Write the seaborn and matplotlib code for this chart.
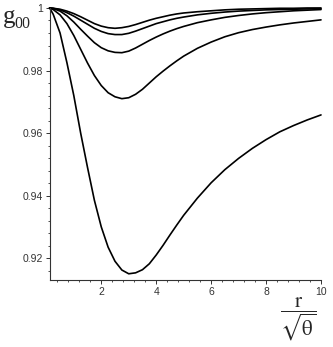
import matplotlib
matplotlib.use("Agg")
import matplotlib.pyplot as plt
from matplotlib.ticker import MultipleLocator, FuncFormatter
import seaborn as sns
import pandas as pd

# values, x = r / sqrt(theta)
x_vals = [0.12, 0.25, 0.5, 0.75, 1.0, 1.25, 1.5, 1.75, 2.0, 2.25, 2.5, 2.75, 3.0, 3.25,
          3.5, 3.75, 4.0, 4.25, 4.5, 4.75, 5.0, 5.5, 6.0, 6.5, 7.0, 7.5, 8.0, 8.5, 9.0,
          9.5, 10.0]

g00_a = [1.0, 0.9999, 0.9996, 0.9990, 0.9982, 0.9972, 0.9961, 0.9950, 0.9942, 0.9937,
         0.9935, 0.9937, 0.9941, 0.9947, 0.9954, 0.9961, 0.9967, 0.9972, 0.9977, 0.9981,
         0.9984, 0.9988, 0.9991, 0.9994, 0.9996, 0.9997, 0.9998, 0.9999, 0.9999, 1.0, 1.0]
g00_b = [1.0, 0.9999, 0.9994, 0.9985, 0.9974, 0.9961, 0.9948, 0.9935, 0.9925, 0.9918,
         0.9915, 0.9915, 0.9919, 0.9926, 0.9934, 0.9942, 0.9950, 0.9956, 0.9962, 0.9967,
         0.9971, 0.9978, 0.9983, 0.9987, 0.9990, 0.9992, 0.9994, 0.9995, 0.9996, 0.9997,
         0.9998]
g00_c = [1.0, 0.9998, 0.9990, 0.9975, 0.9955, 0.9932, 0.9910, 0.9889, 0.9873, 0.9863,
         0.9858, 0.9857, 0.9862, 0.9872, 0.9884, 0.9896, 0.9907, 0.9917, 0.9926, 0.9934,
         0.9941, 0.9953, 0.9962, 0.9970, 0.9976, 0.9981, 0.9985, 0.9988, 0.9991, 0.9993,
         0.9995]
g00_d = [1.0, 0.9995, 0.9978, 0.9950, 0.9912, 0.9868, 0.9824, 0.9784, 0.9752, 0.9729,
         0.9716, 0.9710, 0.9713, 0.9724, 0.9740, 0.9760, 0.9780, 0.9798, 0.9815, 0.9831,
         0.9846, 0.9871, 0.9891, 0.9908, 0.9921, 0.9931, 0.9939, 0.9946, 0.9952, 0.9957,
         0.9962]
g00_e = [1.0, 0.9980, 0.9920, 0.9825, 0.9720, 0.9600, 0.9490, 0.9385, 0.9300, 0.9235,
         0.9190, 0.9162, 0.9150, 0.9153, 0.9163, 0.9182, 0.9210, 0.9241, 0.9274, 0.9306,
         0.9337, 0.9392, 0.9441, 0.9483, 0.9519, 0.9551, 0.9579, 0.9604, 0.9624, 0.9642,
         0.9658]

x_ticks = [2, 4, 6, 8, 10]
y_ticks = [0.92, 0.94, 0.96, 0.98, 1.0]

curves = {"a": g00_a, "b": g00_b, "c": g00_c, "d": g00_d, "e": g00_e}
df = pd.concat(
    [pd.DataFrame({"x": x_vals, "g00": vals, "curve": name}) for name, vals in curves.items()],
    ignore_index=True,
)

sns.set_style("ticks")
plt.rcParams["mathtext.fontset"] = "stix"

fig = plt.figure(figsize=(3.33, 3.47), dpi=100)
ax = fig.add_axes([0.149, 0.193, 0.815, 0.784])

sns.lineplot(data=df, x="x", y="g00", hue="curve", palette=["black"] * 5,
             legend=False, linewidth=1.2, ax=ax, clip_on=False)

ax.set_xlim(0.12, 10)
ax.set_ylim(0.913, 1.0)
ax.set_xticks(x_ticks)
ax.set_yticks(y_ticks)
ax.xaxis.set_minor_locator(MultipleLocator(0.4))
ax.yaxis.set_minor_locator(MultipleLocator(0.004))
ax.yaxis.set_major_formatter(FuncFormatter(lambda v, p: f"{v:g}"))
ax.set_xlabel("")
ax.set_ylabel("")

for side in ["top", "right"]:
    ax.spines[side].set_visible(False)
for side in ["left", "bottom"]:
    ax.spines[side].set_linewidth(0.8)
    ax.spines[side].set_color("#333333")

ax.tick_params(which="major", length=3, width=0.7, pad=2, labelsize=7.5,
               labelcolor="#333333", color="#333333")
ax.tick_params(which="minor", length=1.5, width=0.6, color="#333333")
for lbl in ax.get_xticklabels() + ax.get_yticklabels():
    lbl.set_family("Liberation Sans")

# axis titles placed like the original (Maple style)
fig.text(0.009, 0.934, "g", fontsize=18, family="Liberation Serif", va="baseline")
fig.text(0.042, 0.919, "00", fontsize=11.5, family="Liberation Serif", va="baseline")
fig.text(0.897, 0.012, r"$\dfrac{\mathrm{r}}{\sqrt{\mathrm{\theta}}}$",
         fontsize=15, ha="center", va="bottom")

fig.savefig("out.png", dpi=100)
